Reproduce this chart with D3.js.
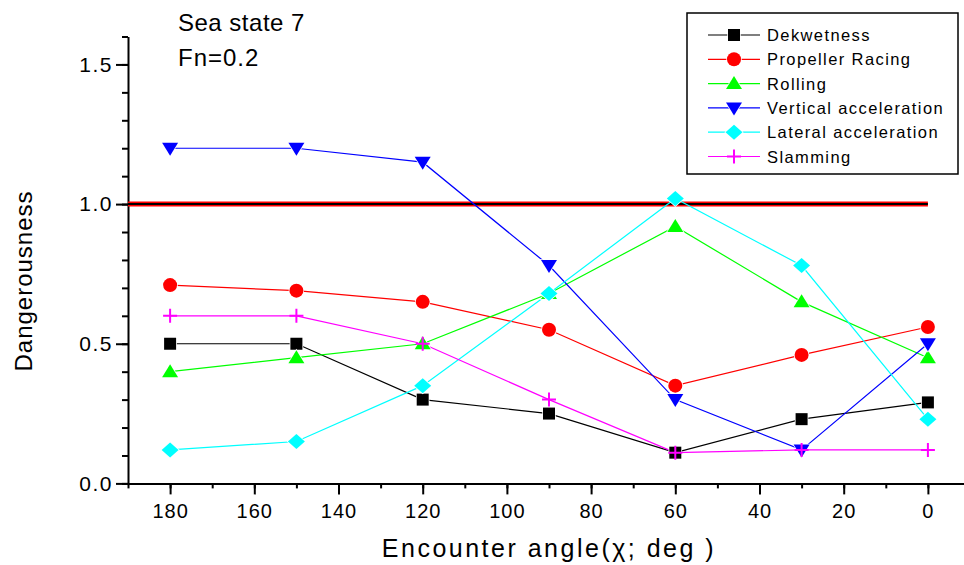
<!DOCTYPE html>
<html>
<head>
<meta charset="utf-8">
<script src="https://cdn.jsdelivr.net/npm/d3@7"></script>
<style>
    body { margin: 0; background: #fff; }
    text { font-family: "Liberation Sans", Arial, sans-serif; fill: #000; }
</style>
</head>
<body>
<div id="chart"></div>
<script>
// encounter angles (deg) and dangerousness of each criterion
const angles = [180, 150, 120, 90, 60, 30, 0];
const dekwetness = [0.50, 0.50, 0.30, 0.25, 0.11, 0.23, 0.29];
const propellerRacing = [0.71, 0.69, 0.65, 0.55, 0.35, 0.46, 0.56];
const rolling = [0.40, 0.45, 0.50, 0.68, 0.92, 0.65, 0.45];
const verticalAcc = [1.20, 1.20, 1.15, 0.78, 0.30, 0.12, 0.50];
const lateralAcc = [0.12, 0.15, 0.35, 0.68, 1.02, 0.78, 0.23];
const slamming = [0.60, 0.60, 0.50, 0.30, 0.11, 0.12, 0.12];

const seriesNames = ["Dekwetness", "Propeller Racing", "Rolling", "Vertical acceleration", "Lateral acceleration", "Slamming"];
const seriesValues = [dekwetness, propellerRacing, rolling, verticalAcc, lateralAcc, slamming];

const xMajorTicks = [180, 160, 140, 120, 100, 80, 60, 40, 20, 0];
const yMajorTicks = [0, 0.5, 1.0, 1.5];
const threshold = 1.0;

const colors = ["#000000", "#ff0000", "#00ff00", "#0000ff", "#00ffff", "#ff00ff"];
const shapes = ["square", "circle", "triangle", "triangleDown", "diamond", "plus"];

const width = 964, height = 565;

const svg = d3.select("#chart")
    .append("svg")
    .attr("width", width)
    .attr("height", height);

const x = d3.scaleLinear().domain([190, -10]).range([128, 970]);
const y = d3.scaleLinear().domain([0, 1.6]).range([483.4, 36.5]);

// marker paths, centred on 0,0
function markerPath(shape) {
    switch (shape) {
        case "square": return "M-6,-6H6V6H-6Z";
        case "circle": return "M-7,0A7,7 0 1,0 7,0A7,7 0 1,0 -7,0Z";
        case "triangle": return "M0,-7.5L8,5.5L-8,5.5Z";
        case "triangleDown": return "M0,7.5L8,-5.5L-8,-5.5Z";
        case "diamond": return "M0,-7.5L8.5,0L0,7.5L-8.5,0Z";
        case "plus": return "M-7,0H7M0,-7V7";
    }
}

function drawMarker(g, shape, color) {
    if (shape === "plus") {
        g.append("path")
            .attr("d", markerPath(shape))
            .attr("fill", "none")
            .attr("stroke", color)
            .attr("stroke-width", 2);
    } else {
        g.append("path")
            .attr("d", markerPath(shape))
            .attr("fill", color)
            .attr("stroke", "#fff")
            .attr("stroke-width", 1.5)
            .attr("paint-order", "stroke");
    }
}

// axes: minor ticks first, then major ones with labels
const xMinor = d3.range(190, -11, -10);
svg.append("g")
    .attr("transform", `translate(0,${y(0)})`)
    .call(d3.axisBottom(x).tickValues(xMinor).tickSize(5).tickSizeOuter(0).tickFormat(""))
    .call(g => g.selectAll("line,path").attr("stroke", "#000").attr("stroke-width", 2));

svg.append("g")
    .attr("transform", `translate(0,${y(0)})`)
    .call(d3.axisBottom(x).tickValues(xMajorTicks).tickSize(11).tickPadding(9).tickFormat(d3.format("d")))
    .call(g => g.select(".domain").remove())
    .call(g => g.selectAll("line").attr("stroke", "#000").attr("stroke-width", 2))
    .call(g => g.selectAll("text")
        .style("font-size", "20px")
        .style("letter-spacing", "1px")
        .attr("font-family", null));

const yMinor = d3.range(0, 1.61, 0.1);
svg.append("g")
    .attr("transform", `translate(${x(190)},0)`)
    .call(d3.axisLeft(y).tickValues(yMinor).tickSize(6).tickSizeOuter(0).tickFormat(""))
    .call(g => g.selectAll("line,path").attr("stroke", "#000").attr("stroke-width", 2));

svg.append("g")
    .attr("transform", `translate(${x(190)},0)`)
    .call(d3.axisLeft(y).tickValues(yMajorTicks).tickSize(12).tickPadding(3).tickFormat(d3.format(".1f")))
    .call(g => g.select(".domain").remove())
    .call(g => g.selectAll("line").attr("stroke", "#000").attr("stroke-width", 2))
    .call(g => g.selectAll("text")
        .style("font-size", "21px")
        .style("letter-spacing", "1.5px")
        .attr("font-family", null));

// threshold line at 1.0 (red with black core)
svg.append("line")
    .attr("x1", x(190)).attr("x2", x(0))
    .attr("y1", y(threshold)).attr("y2", y(threshold))
    .attr("stroke", "#ff0000").attr("stroke-width", 5);
svg.append("line")
    .attr("x1", x(190)).attr("x2", x(0))
    .attr("y1", y(threshold)).attr("y2", y(threshold))
    .attr("stroke", "#000").attr("stroke-width", 2);

const line = d3.line()
    .x(d => x(d[0]))
    .y(d => y(d[1]));

seriesValues.forEach(function (vals, i) {
    const pts = angles.map((a, j) => [a, vals[j]]);
    svg.append("path")
        .datum(pts)
        .attr("d", line)
        .attr("fill", "none")
        .attr("stroke", colors[i])
        .attr("stroke-width", 1.2);
});

seriesValues.forEach(function (vals, i) {
    angles.forEach(function (a, j) {
        const g = svg.append("g").attr("transform", `translate(${x(a)},${y(vals[j])})`);
        drawMarker(g, shapes[i], colors[i]);
    });
});

// legend
const legend = svg.append("g");
legend.append("rect")
    .attr("x", 687).attr("y", 13)
    .attr("width", 271).attr("height", 161)
    .attr("fill", "#fff")
    .attr("stroke", "#000")
    .attr("stroke-width", 1.5);

seriesNames.forEach(function (name, i) {
    const cy = 35 + i * 24.3;
    legend.append("line")
        .attr("x1", 708).attr("x2", 760)
        .attr("y1", cy).attr("y2", cy)
        .attr("stroke", colors[i])
        .attr("stroke-width", 1.2);
    const g = legend.append("g").attr("transform", `translate(734,${cy})`);
    drawMarker(g, shapes[i], colors[i]);
    legend.append("text")
        .attr("x", 767).attr("y", cy + 6)
        .style("font-size", "16.5px")
        .style("letter-spacing", "1.4px")
        .text(name);
});

// annotations and axis titles
svg.append("text")
    .attr("x", 178).attr("y", 31)
    .style("font-size", "24px")
    .style("letter-spacing", "0.5px")
    .text("Sea state 7");
svg.append("text")
    .attr("x", 178).attr("y", 66)
    .style("font-size", "24px")
    .style("letter-spacing", "1px")
    .text("Fn=0.2");

svg.append("text")
    .attr("transform", "translate(32,281) rotate(-90)")
    .attr("text-anchor", "middle")
    .style("font-size", "24px")
    .style("letter-spacing", "1px")
    .text("Dangerousness");

svg.append("text")
    .attr("x", 549).attr("y", 557)
    .attr("text-anchor", "middle")
    .style("font-size", "25px")
    .style("letter-spacing", "2.5px")
    .text("Encounter angle(χ; deg )");
</script>
</body>
</html>
